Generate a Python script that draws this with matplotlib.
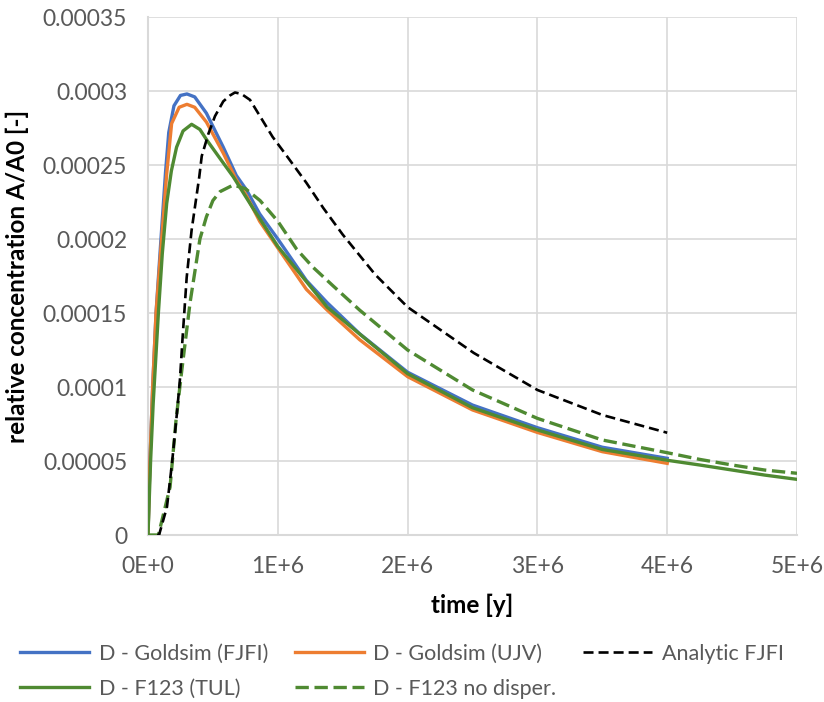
import numpy as np
import matplotlib
import matplotlib.pyplot as plt

matplotlib.use('Agg')

plt.rcParams['font.family'] = ['Lato', 'DejaVu Sans']

# --- data: time [y], relative concentration A/A0 [-] ---
T_GS_FJFI = [0, 0.015e6, 0.036e6, 0.062e6, 0.1e6, 0.135e6, 0.16e6, 0.2e6, 0.25e6,
             0.3e6, 0.36e6, 0.45e6, 0.58e6, 0.68e6, 0.76e6, 0.86e6, 1.0e6, 1.22e6,
             1.38e6, 1.63e6, 2.0e6, 2.5e6, 3.0e6, 3.5e6, 4.0e6]
C_GS_FJFI = [0, 5.0e-5, 1.0e-4, 1.5e-4, 2.0e-4, 2.45e-4, 2.72e-4, 2.9e-4, 2.97e-4,
             2.98e-4, 2.96e-4, 2.85e-4, 2.62e-4, 2.43e-4, 2.33e-4, 2.17e-4, 2.0e-4, 1.72e-4,
             1.57e-4, 1.36e-4, 1.1e-4, 8.78e-5, 7.25e-5, 5.93e-5, 5.18e-5]

T_GS_UJV = [0, 0.015e6, 0.036e6, 0.062e6, 0.105e6, 0.144e6, 0.182e6, 0.24e6, 0.3e6,
            0.36e6, 0.45e6, 0.58e6, 0.68e6, 0.76e6, 0.86e6, 1.0e6, 1.22e6, 1.38e6,
            1.63e6, 2.0e6, 2.5e6, 3.0e6, 3.5e6, 4.0e6]
C_GS_UJV = [0, 5.0e-5, 1.0e-4, 1.5e-4, 2.0e-4, 2.44e-4, 2.78e-4, 2.89e-4, 2.91e-4,
            2.89e-4, 2.79e-4, 2.58e-4, 2.4e-4, 2.29e-4, 2.12e-4, 1.94e-4, 1.66e-4, 1.52e-4,
            1.32e-4, 1.07e-4, 8.45e-5, 6.93e-5, 5.63e-5, 4.84e-5]

T_ANALYTIC = [0.07e6, 0.085e6, 0.146e6, 0.185e6, 0.223e6, 0.246e6, 0.267e6, 0.298e6,
              0.336e6, 0.395e6, 0.414e6, 0.465e6, 0.516e6, 0.58e6, 0.632e6, 0.67e6,
              0.72e6, 0.786e6, 0.96e6, 1.07e6, 1.22e6, 1.35e6, 1.5e6, 1.75e6, 2.0e6,
              2.51e6, 3.0e6, 3.5e6, 4.0e6]
C_ANALYTIC = [0, 0, 1.89e-5, 4.86e-5, 8.24e-5, 1.05e-4, 1.34e-4, 1.74e-4,
              2.06e-4, 2.42e-4, 2.56e-4, 2.71e-4, 2.83e-4, 2.93e-4, 2.97e-4, 2.99e-4,
              2.98e-4, 2.94e-4, 2.69e-4, 2.56e-4, 2.38e-4, 2.21e-4, 2.03e-4, 1.76e-4, 1.54e-4,
              1.23e-4, 9.8e-5, 8.11e-5, 6.91e-5]

T_F123 = [0, 0.02e6, 0.04e6, 0.08e6, 0.11e6, 0.144e6, 0.18e6, 0.22e6, 0.27e6, 0.336e6,
          0.4e6, 0.452e6, 0.55e6, 0.657e6, 0.8e6, 1.0e6, 1.38e6, 2.0e6, 2.5e6, 3.0e6,
          3.5e6, 4.0e6, 4.25e6, 4.5e6, 4.75e6, 5.0e6]
C_F123 = [0, 5.0e-5, 8.9e-5, 1.5e-4, 1.9e-4, 2.24e-4, 2.46e-4, 2.62e-4, 2.73e-4, 2.775e-4,
          2.74e-4, 2.67e-4, 2.55e-4, 2.42e-4, 2.22e-4, 1.95e-4, 1.54e-4, 1.09e-4, 8.6e-5, 7.1e-5,
          5.78e-5, 5.05e-5, 4.73e-5, 4.39e-5, 4.05e-5, 3.76e-5]

T_F123_ND = [0, 0.06e6, 0.08e6, 0.17e6, 0.216e6, 0.26e6, 0.324e6, 0.4e6, 0.45e6, 0.5e6,
             0.555e6, 0.657e6, 0.75e6, 0.863e6, 1.0e6, 1.146e6, 1.27e6, 1.43e6, 1.63e6,
             2.0e6, 2.5e6, 3.0e6, 3.5e6, 4.0e6, 4.25e6, 4.5e6, 4.75e6, 5.0e6]
C_F123_ND = [0, 0, 0, 3.24e-5, 7.77e-5, 1.11e-4, 1.57e-4, 2.0e-4, 2.15e-4, 2.26e-4,
             2.32e-4, 2.365e-4, 2.34e-4, 2.26e-4, 2.12e-4, 1.93e-4, 1.81e-4, 1.68e-4, 1.52e-4,
             1.25e-4, 9.8e-5, 7.88e-5, 6.42e-5, 5.56e-5, 5.11e-5, 4.73e-5, 4.39e-5, 4.17e-5]

X_TICKS = [0, 1e6, 2e6, 3e6, 4e6, 5e6]
X_LABELS = ['0E+0', '1E+6', '2E+6', '3E+6', '4E+6', '5E+6']
Y_TICKS = [0, 5e-5, 1e-4, 1.5e-4, 2e-4, 2.5e-4, 3e-4, 3.5e-4]
Y_LABELS = ['0', '0.00005', '0.0001', '0.00015', '0.0002', '0.00025', '0.0003', '0.00035']

GRID_C = '#d9d9d9'
TEXT_C = '#595959'
GREEN = '#4f8a32'

fig = plt.figure(figsize=(8.24, 7.02), dpi=100)
ax = fig.add_axes([148 / 824, 1 - 535 / 702, 649 / 824, 518 / 702])

h_blue, = ax.plot(T_GS_FJFI, C_GS_FJFI, color='#4472C4', lw=2.4,
                  label='D - Goldsim (FJFI)', zorder=3)
h_orange, = ax.plot(T_GS_UJV, C_GS_UJV, color='#ED7D31', lw=2.4,
                    label='D - Goldsim (UJV)', zorder=3)
h_black, = ax.plot(T_ANALYTIC, C_ANALYTIC, color='black', lw=1.9,
                   dashes=(3.8, 1.9), label='Analytic FJFI', zorder=4)
h_green, = ax.plot(T_F123, C_F123, color=GREEN, lw=2.4,
                   label='D - F123 (TUL)', zorder=3)
h_gdash, = ax.plot(T_F123_ND, C_F123_ND, color=GREEN, lw=2.4,
                   dashes=(4.0, 1.7), label='D - F123 no disper.', zorder=3)

ax.set_xlim(0, 5e6)
ax.set_ylim(0, 3.5e-4)
ax.set_xticks(X_TICKS)
ax.set_xticklabels(X_LABELS)
ax.set_yticks(Y_TICKS)
ax.set_yticklabels(Y_LABELS)
ax.tick_params(length=0, labelsize=16.5, colors=TEXT_C, pad=15)
ax.grid(True, color=GRID_C, lw=1.2)
ax.set_axisbelow(True)
for s in ['top', 'right']:
    ax.spines[s].set_visible(False)
for s in ['left', 'bottom']:
    ax.spines[s].set_color(GRID_C)
    ax.spines[s].set_linewidth(1.5)

ax.set_xlabel('time [y]', fontsize=17.5, fontweight='bold', labelpad=12)
ax.set_ylabel('relative concentration A/A0 [-]', fontsize=17.5,
              fontweight='bold', labelpad=10)

# legend fills column-wise, so order handles to read row by row
handles = [h_blue, h_green, h_orange, h_gdash, h_black]
fig.legend(handles=handles, labels=[h.get_label() for h in handles],
           loc='upper left', bbox_to_anchor=(20 / 824, 1 - 644 / 702), ncol=3,
           frameon=False, fontsize=15.5, handlelength=3.2, handletextpad=0.45,
           columnspacing=1.25, labelspacing=0.68, borderpad=0, borderaxespad=0,
           labelcolor=TEXT_C)

fig.savefig('out.png', dpi=100)
